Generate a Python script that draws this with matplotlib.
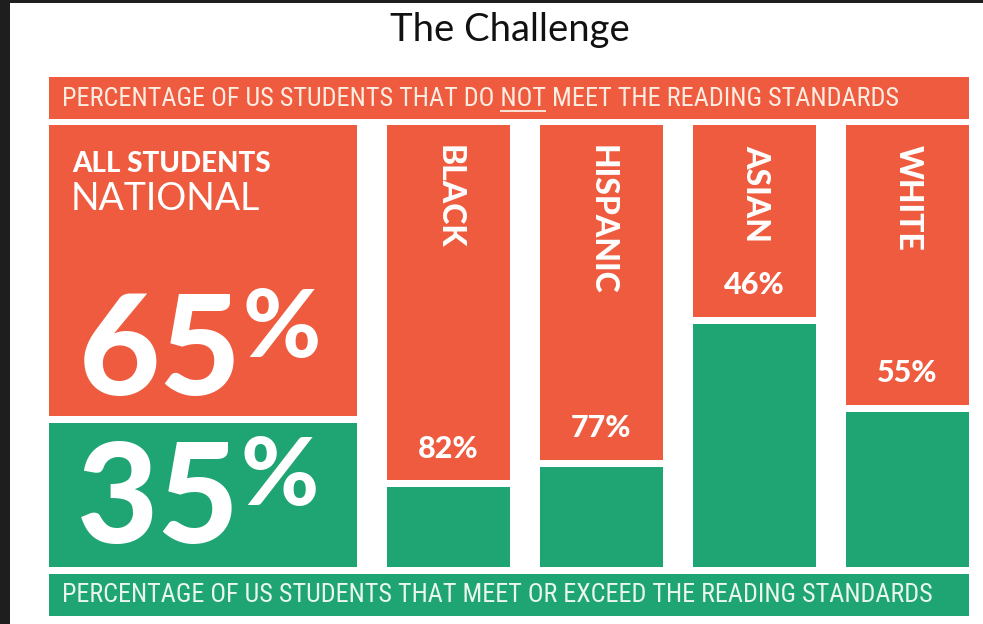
import matplotlib
matplotlib.use("Agg")
import matplotlib.pyplot as plt
from matplotlib.patches import Rectangle
from matplotlib import font_manager
from matplotlib.font_manager import FontProperties
import numpy as np

# ---------------- data ----------------
groups = ["ALL STUDENTS", "BLACK", "HISPANIC", "ASIAN", "WHITE"]
not_meet_label = [65, 82, 77, 46, 55]            # % printed on the chart (do NOT meet)
meet_label = [35]                                 # % printed for all students (meet)
not_meet_drawn = [66.7, 81.2, 76.5, 44.2, 64.1]   # height of the orange segment as drawn (% of column)
col_widths = [2.5, 1, 1, 1, 1]

title = "The Challenge"
top_banner = "PERCENTAGE OF US STUDENTS THAT DO NOT MEET THE READING STANDARDS"
bottom_banner = "PERCENTAGE OF US STUDENTS THAT MEET OR EXCEED THE READING STANDARDS"
subtitle_all = "NATIONAL"

ORANGE = "#EF5B3F"
GREEN = "#1EA573"
W = 983
H = 624
DPI = 100

# pick a narrow font for the banners if one is installed
narrow_fp = None
prefs = ["LiberationSansNarrow-Regular", "RobotoCondensed-Regular", "DejaVuSansCondensed.ttf"]
files = [f.fname for f in font_manager.fontManager.ttflist]
for p in prefs:
    hit = [f for f in files if p in f]
    if hit:
        narrow_fp = FontProperties(fname=hit[0])
        break
if narrow_fp is None:
    hit = [f for f in files if ("Narrow" in f or "Condensed" in f) and "Bold" not in f
           and "Oblique" not in f and "Italic" not in f]
    narrow_fp = FontProperties(fname=hit[0]) if hit else FontProperties(family="Roboto")

fig = plt.figure(figsize=(W / DPI, H / DPI), dpi=DPI)
fig.patch.set_facecolor("white")
renderer = fig.canvas.get_renderer()

# overlay axes in pixel units for decorations (banners, frame)
bg = fig.add_axes([0, 0, 1, 1])
bg.set_xlim(0, W)
bg.set_ylim(H, 0)
bg.axis("off")
bg.add_patch(Rectangle((0, 0), 10, H, color="#1e1e1e", lw=0))
bg.add_patch(Rectangle((0, 0), W, 3, color="#1e1e1e", lw=0))

PX0, PX1 = 49, 969
bg.add_patch(Rectangle((PX0, 77), PX1 - PX0, 42, color=ORANGE, lw=0))
bg.add_patch(Rectangle((PX0, 574), PX1 - PX0, 42, color=GREEN, lw=0))


def fit_text(ax, x, y, s, target_w, size0, **kw):
    t = ax.text(x, y, s, fontsize=size0, **kw)
    w = t.get_window_extent(renderer=renderer).width
    t.set_fontsize(size0 * target_w / w)
    return t


t_title = fit_text(bg, 510, 30, title, 240, 28, family=["Lato", "DejaVu Sans"],
                   ha="center", va="center", color="#111111")


def banner(x, y, s, target_w, color):
    fp = narrow_fp.copy()
    fp.set_size(18)
    t = bg.text(x, y, s, fontproperties=fp, ha="left", va="center", color=color)
    w = t.get_window_extent(renderer=renderer).width
    fp.set_size(18 * target_w / w)
    t.set_fontproperties(fp)
    return t, fp


t_top, fp_top = banner(62, 99, top_banner, 838, "#FCEDE3")
t_bot, fp_bot = banner(62, 595, bottom_banner, 871, "#EAF6EF")

# underline under "NOT"
probe1 = bg.text(0, 0, "PERCENTAGE OF US STUDENTS THAT DO NOT", fontproperties=fp_top)
probe2 = bg.text(0, 0, "NOT", fontproperties=fp_top)
w1 = probe1.get_window_extent(renderer=renderer).width
w2 = probe2.get_window_extent(renderer=renderer).width
probe1.remove()
probe2.remove()
bg.plot([62 + w1 - w2, 62 + w1], [111, 111], color="#FCEDE3", lw=1.3,
        solid_capstyle="butt")

# ---------------- panel ----------------
ax = fig.add_axes([PX0 / W, (H - 567) / H, (PX1 - PX0) / W, 442 / H])
gap_x = 0.24
widths = np.array(col_widths, dtype=float)
lefts = np.concatenate([[0], np.cumsum(widths + gap_x)[:-1]])
total = lefts[-1] + widths[-1]
ax.set_xlim(0, total)
ax.set_ylim(100, 0)
ax.axis("off")

drawn = np.array(not_meet_drawn)
g = 0.8
ax.bar(lefts, drawn - g, width=widths, bottom=0, align="edge", color=ORANGE, lw=0)
ax.bar(lefts, 100 - (drawn + g), width=widths, bottom=drawn + g, align="edge",
       color=GREEN, lw=0)

BOLD = ["Lato", "DejaVu Sans"]
PT = 0.72  # points per pixel at 100 dpi
centers = lefts + widths / 2

for i in range(1, len(groups)):
    ax.annotate(groups[i], (centers[i], 0), xytext=(1 * PT, -20 * PT),
                textcoords="offset points", rotation=-90, ha="center", va="top",
                color="white", fontsize=23, fontweight="black", family=BOLD)
    ax.annotate(f"{not_meet_label[i]}%", (centers[i], drawn[i]),
                xytext=(0, 35 * PT), textcoords="offset points",
                ha="center", va="center", color="white", fontsize=22,
                fontweight="black", family=BOLD)

# left column texts
ax.annotate(groups[0], (lefts[0], 0), xytext=(23 * PT, -47 * PT),
            textcoords="offset points", ha="left", va="baseline",
            color="white", fontsize=20, fontweight="black", family=BOLD)
ax.annotate(subtitle_all, (lefts[0], 0), xytext=(22 * PT, -85 * PT),
            textcoords="offset points", ha="left", va="baseline",
            color="white", fontsize=27, fontweight="normal", family=BOLD)


def big_number(value, yref, base_off, left_off):
    t = ax.annotate(f"{value}", (lefts[0], yref), xytext=(left_off * PT, base_off * PT),
                    textcoords="offset points", ha="left", va="baseline",
                    color="white", fontsize=101, fontweight="black", family=BOLD)
    bb = t.get_window_extent(renderer=renderer)
    ax.annotate("%", (lefts[0], yref),
                xytext=((left_off + bb.width + 1) * PT, (base_off + 108) * PT),
                textcoords="offset points", ha="left", va="top",
                color="white", fontsize=68, fontweight="black", family=BOLD)


big_number(not_meet_label[0], drawn[0], 25, 30)
big_number(meet_label[0], 100, 24, 28)

fig.savefig("out.png", dpi=DPI, facecolor=fig.get_facecolor())
